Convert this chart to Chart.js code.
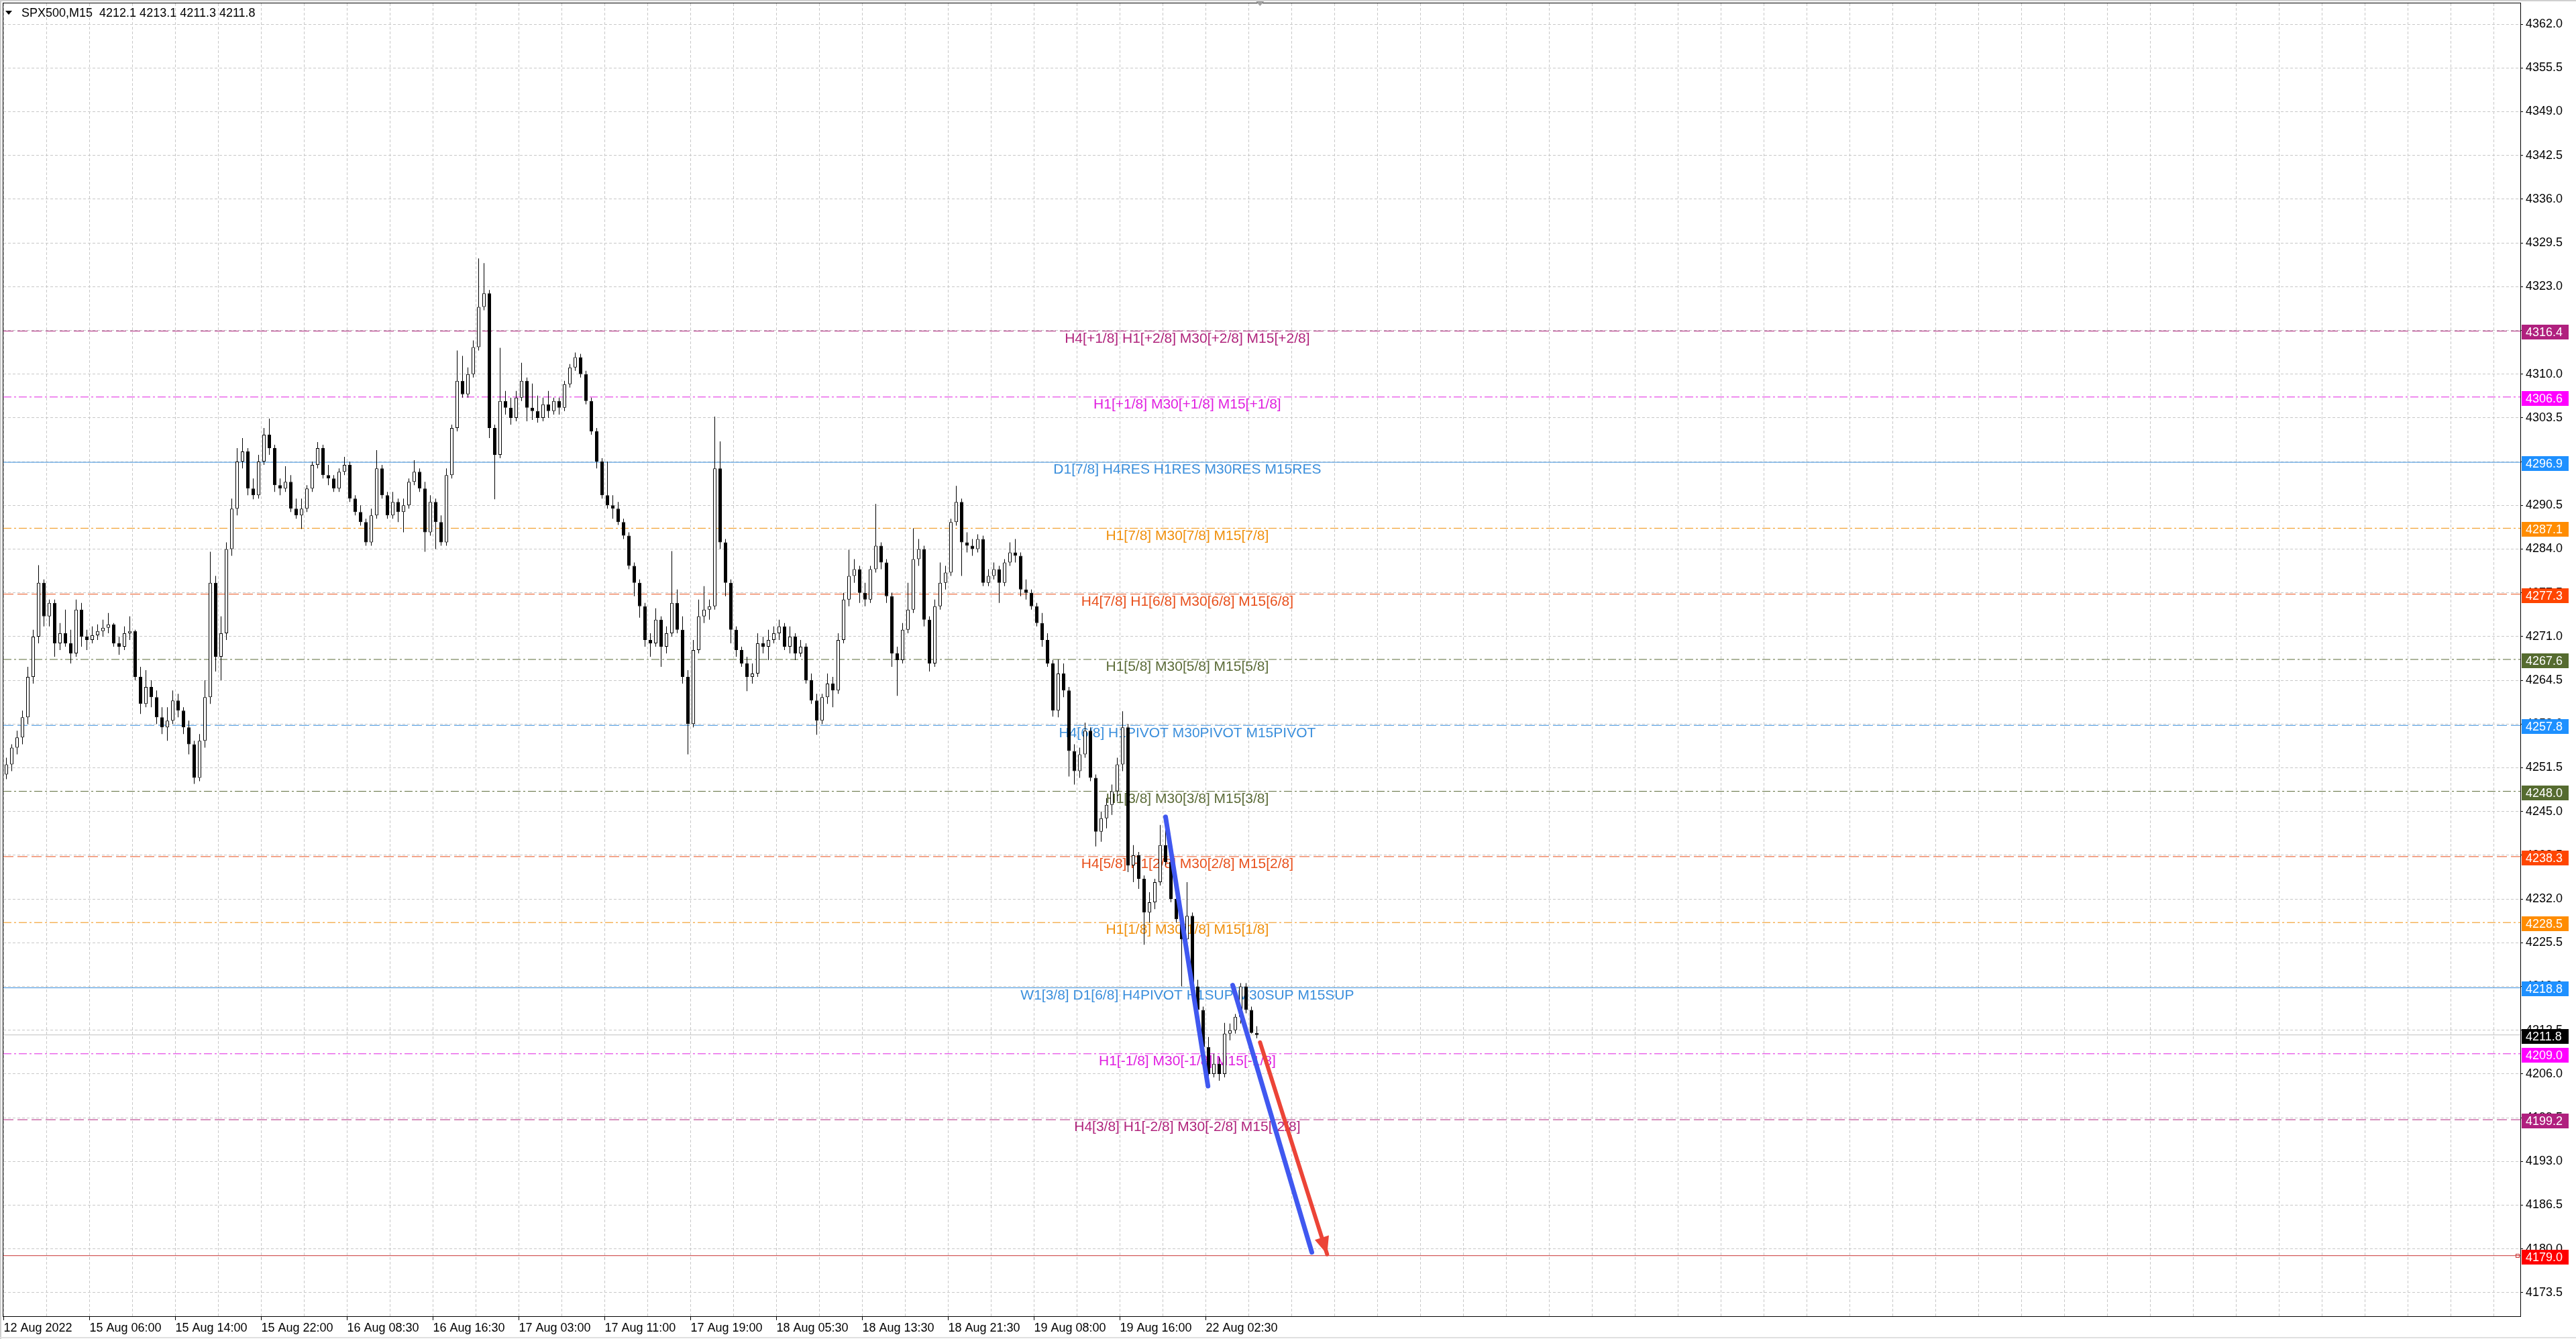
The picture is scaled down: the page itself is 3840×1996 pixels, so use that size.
<!DOCTYPE html>
<html>
<head>
<meta charset="utf-8">
<title>SPX500,M15</title>
<script src="https://cdn.jsdelivr.net/npm/chart.js@4.4.1/dist/chart.umd.min.js"></script>
<style>
  html, body { margin: 0; padding: 0; background: #fff; }
  #wrap { width: 3840px; height: 1996px; }
</style>
</head>
<body>
<div id="wrap"><canvas id="chart" width="3840" height="1996"></canvas></div>
<script>
// ---- data ----
const symbolName = 'SPX500,M15';

const timeLabels = ['12 Aug 2022', '15 Aug 06:00', '15 Aug 14:00', '15 Aug 22:00', '16 Aug 08:30',
  '16 Aug 16:30', '17 Aug 03:00', '17 Aug 11:00', '17 Aug 19:00', '18 Aug 05:30', '18 Aug 13:30',
  '18 Aug 21:30', '19 Aug 08:00', '19 Aug 16:00', '22 Aug 02:30'];

const priceTicks = [4173.5, 4180.0, 4186.5, 4193.0, 4199.5, 4206.0, 4212.5, 4219.0, 4225.5, 4232.0,
  4238.5, 4245.0, 4251.5, 4258.0, 4264.5, 4271.0, 4277.5, 4284.0, 4290.5, 4297.0, 4303.5, 4310.0,
  4316.5, 4323.0, 4329.5, 4336.0, 4342.5, 4349.0, 4355.5, 4362.0];

const opens = [
  4250.5, 4252.0, 4254.5, 4256.0, 4259.0, 4265.0, 4271.0, 4279.0, 4274.0, 4276.0,
  4270.0, 4271.5, 4270.0, 4268.5, 4275.0, 4271.0, 4270.5, 4271.2, 4271.8, 4272.3,
  4272.8, 4270.0, 4269.5, 4271.5, 4271.8, 4265.0, 4261.0, 4263.5, 4262.0, 4259.0,
  4257.5, 4258.5, 4261.5, 4260.0, 4257.5, 4255.0, 4250.0, 4255.5, 4262.0, 4279.0,
  4268.0, 4271.5, 4284.0, 4290.0, 4297.0, 4298.5, 4293.0, 4292.0, 4297.0, 4301.0,
  4299.0, 4293.5, 4293.0, 4294.0, 4290.0, 4289.0, 4290.0, 4293.0, 4296.5, 4299.0,
  4295.0, 4294.5, 4293.0, 4295.5, 4296.5, 4291.5, 4289.5, 4288.0, 4285.0, 4289.0,
  4296.0, 4292.0, 4289.0, 4291.0, 4289.5, 4290.5, 4294.0, 4295.5, 4293.0, 4286.5,
  4291.0, 4288.0, 4285.0, 4295.0, 4302.0, 4309.0, 4307.0, 4310.0, 4314.0, 4320.0,
  4322.0, 4302.0, 4298.0, 4306.0, 4305.0, 4303.5, 4306.5, 4309.0, 4305.0, 4304.5,
  4303.5, 4305.5, 4304.5, 4306.0, 4305.0, 4308.5, 4311.0, 4312.5, 4310.0, 4306.0,
  4301.5, 4297.0, 4292.0, 4290.5, 4290.0, 4288.0, 4286.0, 4281.5, 4279.0, 4275.5,
  4270.5, 4270.0, 4273.5, 4269.5, 4271.5, 4276.0, 4272.0, 4265.0, 4258.0, 4269.0,
  4274.0, 4275.0, 4275.5, 4296.0, 4285.0, 4279.0, 4272.0, 4269.0, 4267.0, 4265.0,
  4265.5, 4270.0, 4269.5, 4270.5, 4271.5, 4272.5, 4269.5, 4271.0, 4268.5, 4269.5,
  4264.5, 4261.5, 4258.5, 4262.0, 4264.0, 4263.0, 4270.5, 4276.5, 4280.0, 4281.0,
  4277.5, 4276.5, 4281.0, 4284.5, 4282.0, 4277.0, 4268.5, 4267.5, 4272.0, 4275.0,
  4282.5, 4284.0, 4273.5, 4267.0, 4275.5, 4279.0, 4280.5, 4288.0, 4291.0, 4285.0,
  4284.5, 4284.0, 4285.5, 4279.0, 4280.0, 4281.0, 4279.0, 4282.0, 4283.5, 4283.0,
  4278.0, 4277.5, 4275.5, 4273.0, 4270.5, 4267.0, 4260.0, 4265.5, 4263.0, 4254.0,
  4251.0, 4253.5, 4257.0, 4250.0, 4242.0, 4244.0, 4246.0, 4248.0, 4252.0, 4257.5,
  4237.0, 4238.5, 4235.0, 4230.0, 4231.5, 4234.5, 4240.0, 4237.5, 4232.0, 4229.0,
  4226.0, 4229.5, 4219.0, 4215.5, 4210.0, 4206.0, 4207.5, 4206.0, 4212.0, 4212.5,
  4214.5, 4219.0, 4215.5, 4212.1
];
const highs = [
  4253.0, 4255.0, 4257.0, 4260.0, 4266.5, 4272.0, 4281.6, 4279.5, 4276.5, 4276.5,
  4273.0, 4275.0, 4272.0, 4276.5, 4276.0, 4272.0, 4272.5, 4272.8, 4273.5, 4274.5,
  4273.0, 4271.0, 4272.5, 4274.0, 4272.0, 4266.5, 4266.0, 4264.5, 4263.0, 4260.5,
  4260.5, 4263.0, 4262.5, 4260.5, 4258.5, 4255.5, 4256.5, 4264.5, 4283.6, 4280.0,
  4274.0, 4285.0, 4291.5, 4299.0, 4300.5, 4299.0, 4294.5, 4298.0, 4302.0, 4303.4,
  4299.5, 4294.5, 4296.3, 4295.0, 4291.5, 4291.5, 4293.5, 4297.0, 4299.9, 4299.5,
  4296.5, 4295.0, 4296.0, 4297.7, 4297.0, 4292.0, 4290.5, 4288.5, 4290.0, 4298.7,
  4296.5, 4292.5, 4292.5, 4291.5, 4291.5, 4294.5, 4297.2, 4296.0, 4294.0, 4292.0,
  4291.5, 4289.0, 4296.0, 4302.5, 4313.5, 4312.7, 4311.0, 4315.0, 4327.2, 4326.5,
  4322.5, 4302.5, 4313.9, 4307.5, 4306.5, 4307.5, 4311.7, 4309.5, 4308.6, 4306.8,
  4306.5, 4307.5, 4306.5, 4306.5, 4309.0, 4311.5, 4313.2, 4313.0, 4310.5, 4306.5,
  4302.0, 4297.5, 4297.0, 4292.0, 4291.0, 4288.5, 4286.5, 4282.0, 4279.5, 4276.0,
  4271.5, 4275.2, 4274.0, 4272.5, 4283.7, 4278.0, 4274.0, 4266.0, 4270.5, 4276.5,
  4278.5, 4276.5, 4303.7, 4300.0, 4285.5, 4279.5, 4272.5, 4269.5, 4268.0, 4267.0,
  4271.5, 4271.0, 4272.0, 4272.5, 4273.5, 4273.0, 4272.5, 4271.5, 4270.5, 4270.0,
  4265.5, 4262.5, 4262.5, 4265.5, 4265.0, 4271.5, 4277.5, 4283.9, 4282.5, 4281.5,
  4279.0, 4281.5, 4290.7, 4285.0, 4282.5, 4277.5, 4269.5, 4273.0, 4279.0, 4287.1,
  4285.5, 4284.5, 4274.0, 4276.5, 4282.0, 4281.5, 4288.5, 4293.4, 4291.5, 4286.5,
  4285.5, 4286.2, 4286.0, 4281.0, 4282.0, 4281.5, 4282.5, 4285.0, 4285.5, 4283.5,
  4279.5, 4278.0, 4276.0, 4274.5, 4271.5, 4267.5, 4267.6, 4267.0, 4263.5, 4255.0,
  4254.5, 4258.2, 4257.5, 4250.5, 4245.0, 4247.0, 4249.0, 4253.0, 4259.9, 4258.0,
  4240.0, 4239.0, 4235.5, 4233.0, 4235.0, 4243.0, 4243.7, 4238.0, 4233.0, 4230.5,
  4234.5, 4230.0, 4220.0, 4216.0, 4211.5, 4209.0, 4208.5, 4213.6, 4213.5, 4214.9,
  4219.5, 4219.5, 4216.0, 4213.1
];
const lows = [
  4249.8, 4251.0, 4253.5, 4255.0, 4258.0, 4264.0, 4270.0, 4272.5, 4272.5, 4268.0,
  4269.0, 4269.5, 4267.0, 4268.0, 4269.5, 4269.0, 4270.0, 4270.5, 4271.0, 4271.5,
  4269.5, 4268.3, 4269.0, 4270.5, 4264.5, 4259.5, 4260.5, 4260.5, 4258.0, 4256.5,
  4255.5, 4258.0, 4259.0, 4256.5, 4253.5, 4249.1, 4249.5, 4254.5, 4261.0, 4265.8,
  4264.5, 4270.5, 4283.0, 4289.0, 4296.0, 4292.0, 4291.4, 4291.5, 4296.5, 4298.0,
  4292.5, 4292.0, 4292.5, 4289.5, 4288.5, 4287.0, 4289.5, 4292.5, 4296.0, 4294.5,
  4293.5, 4292.5, 4292.5, 4295.0, 4291.0, 4289.0, 4287.5, 4284.5, 4284.5, 4288.5,
  4291.5, 4288.5, 4288.5, 4288.0, 4286.5, 4290.0, 4293.5, 4292.5, 4283.6, 4286.0,
  4284.0, 4284.5, 4284.5, 4294.5, 4301.5, 4306.5, 4306.5, 4309.5, 4313.5, 4319.5,
  4300.5, 4291.4, 4297.5, 4304.0, 4302.5, 4303.0, 4306.0, 4303.0, 4303.2, 4302.8,
  4303.0, 4303.5, 4304.0, 4304.0, 4304.5, 4308.0, 4310.5, 4309.5, 4305.5, 4301.0,
  4296.0, 4291.5, 4290.0, 4288.5, 4287.6, 4285.5, 4281.0, 4277.0, 4273.8, 4269.5,
  4268.0, 4269.5, 4266.5, 4268.5, 4271.0, 4271.5, 4264.0, 4253.5, 4257.5, 4268.5,
  4273.0, 4273.5, 4275.0, 4284.0, 4277.0, 4270.0, 4268.0, 4266.5, 4262.9, 4264.0,
  4265.0, 4268.5, 4267.5, 4270.0, 4270.5, 4269.0, 4268.5, 4267.5, 4268.0, 4264.0,
  4261.0, 4256.4, 4258.0, 4261.0, 4260.5, 4262.5, 4270.0, 4275.5, 4279.0, 4276.0,
  4275.5, 4276.0, 4280.5, 4281.0, 4276.0, 4266.5, 4262.2, 4267.0, 4271.5, 4274.5,
  4281.5, 4272.5, 4265.8, 4266.5, 4275.0, 4278.0, 4280.0, 4287.5, 4280.0, 4283.5,
  4283.0, 4283.5, 4278.5, 4278.5, 4279.5, 4276.0, 4278.5, 4281.5, 4282.0, 4277.0,
  4276.5, 4275.0, 4272.5, 4269.5, 4266.5, 4259.1, 4259.0, 4262.0, 4250.2, 4249.0,
  4250.0, 4253.0, 4249.5, 4239.8, 4240.5, 4242.5, 4244.5, 4246.5, 4251.0, 4236.0,
  4234.5, 4233.5, 4225.2, 4228.5, 4230.5, 4234.0, 4237.0, 4231.5, 4228.5, 4219.0,
  4225.5, 4218.5, 4214.5, 4208.5, 4204.6, 4205.5, 4205.0, 4205.5, 4211.0, 4212.0,
  4213.5, 4215.0, 4212.0, 4211.3
];
const closes = [
  4252.0, 4254.5, 4256.0, 4259.0, 4265.0, 4271.0, 4279.0, 4274.0, 4276.0, 4270.0,
  4271.5, 4270.0, 4268.5, 4275.0, 4271.0, 4270.5, 4271.2, 4271.8, 4272.3, 4272.8,
  4270.0, 4269.5, 4271.5, 4271.8, 4265.0, 4261.0, 4263.5, 4262.0, 4259.0, 4257.5,
  4258.5, 4261.5, 4260.0, 4257.5, 4255.0, 4250.0, 4255.5, 4262.0, 4279.0, 4268.0,
  4271.5, 4284.0, 4290.0, 4297.0, 4298.5, 4293.0, 4292.0, 4297.0, 4301.0, 4299.0,
  4293.5, 4293.0, 4294.0, 4290.0, 4289.0, 4290.0, 4293.0, 4296.5, 4299.0, 4295.0,
  4294.5, 4293.0, 4295.5, 4296.5, 4291.5, 4289.5, 4288.0, 4285.0, 4289.0, 4296.0,
  4292.0, 4289.0, 4291.0, 4289.5, 4290.5, 4294.0, 4295.5, 4293.0, 4286.5, 4291.0,
  4288.0, 4285.0, 4295.0, 4302.0, 4309.0, 4307.0, 4310.0, 4314.0, 4320.0, 4322.0,
  4302.0, 4298.0, 4306.0, 4305.0, 4303.5, 4306.5, 4309.0, 4305.0, 4304.5, 4303.5,
  4305.5, 4304.5, 4306.0, 4305.0, 4308.5, 4311.0, 4312.5, 4310.0, 4306.0, 4301.5,
  4297.0, 4292.0, 4290.5, 4290.0, 4288.0, 4286.0, 4281.5, 4279.0, 4275.5, 4270.5,
  4270.0, 4273.5, 4269.5, 4271.5, 4276.0, 4272.0, 4265.0, 4258.0, 4269.0, 4274.0,
  4275.0, 4275.5, 4296.0, 4285.0, 4279.0, 4272.0, 4269.0, 4267.0, 4265.0, 4265.5,
  4270.0, 4269.5, 4270.5, 4271.5, 4272.5, 4269.5, 4271.0, 4268.5, 4269.5, 4264.5,
  4261.5, 4258.5, 4262.0, 4264.0, 4263.0, 4270.5, 4276.5, 4280.0, 4281.0, 4277.5,
  4276.5, 4281.0, 4284.5, 4282.0, 4277.0, 4268.5, 4267.5, 4272.0, 4275.0, 4282.5,
  4284.0, 4273.5, 4267.0, 4275.5, 4279.0, 4280.5, 4288.0, 4291.0, 4285.0, 4284.5,
  4284.0, 4285.5, 4279.0, 4280.0, 4281.0, 4279.0, 4282.0, 4283.5, 4283.0, 4278.0,
  4277.5, 4275.5, 4273.0, 4270.5, 4267.0, 4260.0, 4265.5, 4263.0, 4254.0, 4251.0,
  4253.5, 4257.0, 4250.0, 4242.0, 4244.0, 4246.0, 4248.0, 4252.0, 4257.5, 4237.0,
  4238.5, 4235.0, 4230.0, 4231.5, 4234.5, 4240.0, 4237.5, 4232.0, 4229.0, 4226.0,
  4229.5, 4219.0, 4215.5, 4210.0, 4206.0, 4207.5, 4206.0, 4212.0, 4212.5, 4214.5,
  4219.0, 4215.5, 4212.1, 4211.8
];

// Murrey math style levels drawn by the indicator
const levelPrices = [4316.4, 4306.6, 4296.9, 4287.1, 4277.3, 4267.6, 4257.8, 4248.0, 4238.3, 4228.5,
  4218.8, 4209.0, 4199.2, 4179.0];
const levelTexts = [
  'H4[+1/8] H1[+2/8] M30[+2/8] M15[+2/8]',
  'H1[+1/8] M30[+1/8] M15[+1/8]',
  'D1[7/8] H4RES H1RES M30RES M15RES',
  'H1[7/8] M30[7/8] M15[7/8]',
  'H4[7/8] H1[6/8] M30[6/8] M15[6/8]',
  'H1[5/8] M30[5/8] M15[5/8]',
  'H4[6/8] H1PIVOT M30PIVOT M15PIVOT',
  'H1[3/8] M30[3/8] M15[3/8]',
  'H4[5/8] H1[2/8] M30[2/8] M15[2/8]',
  'H1[1/8] M30[1/8] M15[1/8]',
  'W1[3/8] D1[6/8] H4PIVOT H1SUP M30SUP M15SUP',
  'H1[-1/8] M30[-1/8] M15[-1/8]',
  'H4[3/8] H1[-2/8] M30[-2/8] M15[-2/8]',
  ''
];

// hand drawn trend lines: [bar index, price]
const trendLineA = [[216.0, 4244.2], [223.9, 4204.2]];
const trendLineB = [[228.5, 4219.2], [243.25, 4179.5]];
const targetArrow = [[233.6, 4210.7], [246.1, 4179.2]];

// ---- styles ----
const levelColors = ['#b0247c', '#e020e0', '#3b8fdc', '#f0900c', '#e8501c', '#5b6b38', '#3b8fdc',
  '#5b6b38', '#e8501c', '#f0900c', '#3b8fdc', '#e020e0', '#b0247c', '#c83232'];
const badgeColors = ['#b0207e', '#ff00ff', '#1e90ff', '#ff8c00', '#ff4500', '#556b2f', '#1e90ff',
  '#556b2f', '#ff4500', '#ff8c00', '#1e90ff', '#ff00ff', '#b0207e', '#ff0000'];
const levelStyles = ['dash', 'dashdot', 'solid', 'dashdot', 'dash', 'dashdot', 'dash',
  'dashdot', 'dash', 'dashdot', 'solid', 'dashdot', 'dash', 'solid'];
const dashPatterns = { solid: [], dash: [15, 6], dashdot: [12, 4, 3, 4] };

const X_MIN = -0.5625, X_MAX = 468.4375;   // 8px per bar
const Y_MIN = 4170.0, Y_MAX = 4365.1;
const GRID_BARS = 8;
const LABEL_BAR = 220.05;                   // where the level captions are centred
const FONT = '"Liberation Sans", Arial, sans-serif';

Chart.defaults.font.family = FONT;
Chart.defaults.font.size = 18;
Chart.defaults.color = '#000';

const lastIdx = closes.length - 1;
const toXY = pts => pts.map(p => ({ x: p[0], y: p[1] }));

const levelSets = levelPrices.map((p, k) => ({
    type: 'line',
    data: [{ x: X_MIN, y: p }, { x: X_MAX, y: p }],
    borderColor: levelColors[k],
    borderWidth: 1,
    borderDash: dashPatterns[levelStyles[k]],
    pointRadius: 0,
    order: 10
}));

const bidLine = {
    type: 'line',
    data: [{ x: X_MIN, y: closes[lastIdx] }, { x: X_MAX, y: closes[lastIdx] }],
    borderColor: '#c0c0c0',
    borderWidth: 1,
    pointRadius: 0,
    order: 11
};

const wicks = {
    type: 'bar',
    data: closes.map((c, i) => ({ x: i, y: [lows[i], highs[i]] })),
    backgroundColor: '#000',
    borderWidth: 0,
    barThickness: 1,
    grouped: false,
    inflateAmount: 0,
    order: 6
};

const bodies = {
    type: 'bar',
    data: closes.map((c, i) => ({ x: i, y: [opens[i], c] })),
    backgroundColor: ctx => (closes[ctx.dataIndex] >= opens[ctx.dataIndex] ? '#ffffff' : '#000000'),
    borderColor: '#000',
    borderWidth: 1,
    borderSkipped: false,
    barThickness: 5,
    minBarLength: 1,
    grouped: false,
    inflateAmount: 0,
    order: 5
};

const trendSet = (pts, color, width) => ({
    type: 'line',
    data: toXY(pts),
    borderColor: color,
    borderWidth: width,
    borderCapStyle: 'round',
    pointRadius: 0,
    order: 1
});

const datasets = [bidLine, ...levelSets, wicks, bodies,
    trendSet(trendLineA, '#4058f0', 7),
    trendSet(trendLineB, '#4058f0', 7),
    trendSet(targetArrow, '#ec4437', 6)];
const arrowIndex = datasets.length - 1;

const mtPlugin = {
    id: 'mtDecor',
    beforeDraw(chart) {
        const { ctx, width, height } = chart;
        ctx.save();
        ctx.fillStyle = '#fff';
        ctx.fillRect(0, 0, width, height);
        ctx.restore();
    },
    beforeDatasetsDraw(chart) {
        const { ctx, chartArea } = chart;
        const xs = chart.scales.x, ys = chart.scales.y;
        const cx = xs.getPixelForValue(LABEL_BAR);
        ctx.save();
        ctx.beginPath();
        ctx.rect(chartArea.left, chartArea.top, chartArea.right - chartArea.left, chartArea.bottom - chartArea.top);
        ctx.clip();
        ctx.font = '21px ' + FONT;
        ctx.textAlign = 'center';
        ctx.textBaseline = 'top';
        levelPrices.forEach((p, k) => {
            if (!levelTexts[k]) return;
            ctx.fillStyle = levelColors[k];
            ctx.fillText(levelTexts[k], cx, ys.getPixelForValue(p) + 1);
        });
        ctx.restore();
    },
    afterDatasetsDraw(chart) {
        // arrow head on the forecast line
        const { ctx } = chart;
        const pts = chart.getDatasetMeta(arrowIndex).data;
        const a = pts[0], b = pts[pts.length - 1];
        const ang = Math.atan2(b.y - a.y, b.x - a.x);
        const len = 26, half = 11;
        const bx = b.x - len * Math.cos(ang), by = b.y - len * Math.sin(ang);
        ctx.save();
        ctx.fillStyle = '#ec4437';
        ctx.beginPath();
        ctx.moveTo(b.x, b.y);
        ctx.lineTo(bx + half * Math.sin(ang), by - half * Math.cos(ang));
        ctx.lineTo(bx - half * Math.sin(ang), by + half * Math.cos(ang));
        ctx.closePath();
        ctx.fill();
        ctx.restore();
    },
    afterDraw(chart) {
        const { ctx, chartArea, width, height } = chart;
        const xs = chart.scales.x, ys = chart.scales.y;
        ctx.save();
        // window edges
        ctx.fillStyle = '#cfcfcf';
        ctx.fillRect(0, 0, width, 2);
        ctx.fillRect(0, 0, 2, height);
        ctx.fillStyle = '#e0e0e0';
        ctx.fillRect(0, height - 3, width, 2);
        // chart frame
        ctx.strokeStyle = '#000';
        ctx.lineWidth = 1;
        ctx.strokeRect(chartArea.left - 0.5, chartArea.top - 0.5,
            chartArea.right - chartArea.left + 1, chartArea.bottom - chartArea.top + 1);

        // shift marker on the top edge
        const sx = xs.getPixelForValue(lastIdx + 0.6);
        ctx.fillStyle = '#a0a0a0';
        ctx.beginPath();
        ctx.moveTo(sx - 6, 2);
        ctx.lineTo(sx + 6, 2);
        ctx.lineTo(sx, 9);
        ctx.closePath();
        ctx.fill();

        // small handle at the end of the target line
        const ty = ys.getPixelForValue(levelPrices[levelPrices.length - 1]);
        ctx.strokeStyle = '#c83232';
        ctx.strokeRect(chartArea.right - 6.5, Math.round(ty) - 2.5, 5, 5);

        // price badges on the right scale
        const bx = chartArea.right + 2;
        ctx.font = '18px ' + FONT;
        ctx.textAlign = 'left';
        ctx.textBaseline = 'middle';
        const badge = (price, color) => {
            const y = Math.round(ys.getPixelForValue(price)) + 2;
            ctx.fillStyle = color;
            ctx.fillRect(bx, y - 11, 70, 22);
            ctx.fillStyle = '#fff';
            ctx.fillText(price.toFixed(1), bx + 6, y + 1);
        };
        levelPrices.forEach((p, k) => badge(p, badgeColors[k]));
        badge(closes[lastIdx], '#000');

        // header
        ctx.fillStyle = '#000';
        ctx.beginPath();
        ctx.moveTo(8, 16);
        ctx.lineTo(18, 16);
        ctx.lineTo(13, 22);
        ctx.closePath();
        ctx.fill();
        const head = symbolName + '  ' + [opens[lastIdx], highs[lastIdx], lows[lastIdx], closes[lastIdx]]
            .map(v => v.toFixed(1)).join(' ');
        ctx.fillText(head, 32, 20);
        ctx.restore();
    }
};

new Chart(document.getElementById('chart'), {
    type: 'bar',
    data: { datasets: datasets },
    options: {
        responsive: false,
        maintainAspectRatio: false,
        devicePixelRatio: 1,
        animation: false,
        events: [],
        layout: { padding: { left: 5, top: 5, right: 0, bottom: 0 } },
        plugins: { legend: { display: false }, tooltip: { enabled: false } },
        scales: {
            x: {
                type: 'linear',
                min: X_MIN,
                max: X_MAX,
                offset: false,
                grid: {
                    offset: false,
                    color: '#c8c8c8',
                    lineWidth: 1,
                    tickLength: 6,
                    tickColor: ctx => (ctx.index % 2 === 0 && ctx.index / 2 < timeLabels.length ? '#000' : 'rgba(0,0,0,0)'),
                    tickBorderDash: []
                },
                border: { display: false, dash: [4, 3] },
                afterBuildTicks: axis => {
                    const t = [];
                    for (let v = -0.5; v <= X_MAX; v += GRID_BARS) t.push({ value: v });
                    axis.ticks = t;
                },
                ticks: {
                    autoSkip: false,
                    maxRotation: 0,
                    align: 'start',
                    padding: 1,
                    font: { size: 18 },
                    callback: (value, index) => (index % 2 === 0 ? (timeLabels[index / 2] || '') : '')
                },
                afterFit: scale => {
                    scale.height = 34;
                    scale.paddingLeft = 0;
                    scale.paddingRight = 0;
                }
            },
            y: {
                type: 'linear',
                position: 'right',
                min: Y_MIN,
                max: Y_MAX,
                beginAtZero: false,
                grid: {
                    color: '#c8c8c8',
                    lineWidth: 1,
                    tickLength: 4,
                    tickColor: '#000',
                    tickBorderDash: []
                },
                border: { display: false, dash: [4, 3] },
                afterBuildTicks: axis => {
                    axis.ticks = priceTicks.map(v => ({ value: v }));
                },
                ticks: {
                    autoSkip: false,
                    padding: 4,
                    font: { size: 18 },
                    callback: value => Number(value).toFixed(1)
                },
                afterFit: scale => {
                    scale.width = 83;
                    scale.paddingTop = 0;
                    scale.paddingBottom = 0;
                }
            }
        }
    },
    plugins: [mtPlugin]
});
</script>
</body>
</html>
